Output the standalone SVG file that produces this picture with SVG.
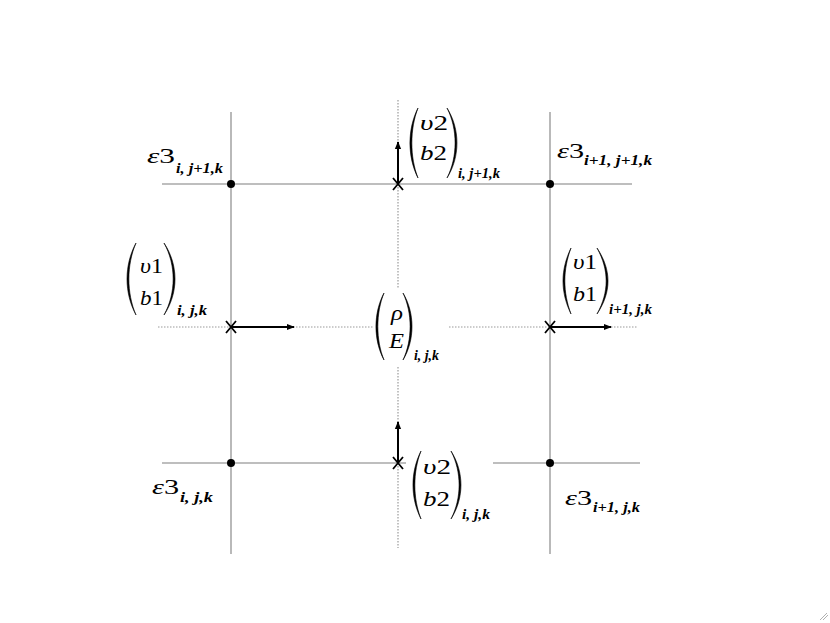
<svg xmlns="http://www.w3.org/2000/svg" width="830" height="623" viewBox="0 0 830 623">
<defs>
<style>
.grid{stroke:#a8a8a8;stroke-width:1.6;fill:none}
.dot{stroke:#9a9a9a;stroke-width:1.2;stroke-dasharray:1.5 1.5;fill:none}
.arrow{stroke:#000;stroke-width:2;fill:none;marker-end:url(#ah)}
.xm{stroke:#000;stroke-width:1.8;fill:none}
.par{fill:#000;stroke:#000;stroke-width:0.6;stroke-linejoin:round}
text{font-family:'Liberation Serif','Times New Roman',serif;fill:#000}
.t{font-size:21px}
.i{font-style:italic}
.s{font-size:14px;font-style:italic;font-weight:bold}
</style>
<marker id="ah" viewBox="0 0 10 10" refX="9" refY="5" markerWidth="4" markerHeight="4" orient="auto" markerUnits="strokeWidth">
<path d="M0,1 L10,5 L0,9 z" fill="#000"/>
</marker>
</defs>
<rect width="830" height="623" fill="#fff"/>
<g id="connectors">
<line class="grid" x1="231" y1="112" x2="231" y2="554"/>
<line class="grid" x1="550" y1="112" x2="550" y2="554"/>
<line class="grid" x1="162" y1="184" x2="632" y2="184"/>
<line class="grid" x1="162" y1="463" x2="406" y2="463"/>
<line class="grid" x1="493" y1="463" x2="640" y2="463"/>
<line class="dot" x1="398" y1="100" x2="398" y2="289"/>
<line class="dot" x1="398" y1="367" x2="398" y2="548"/>
<line class="dot" x1="158" y1="327" x2="373" y2="327"/>
<line class="dot" x1="449" y1="327" x2="637" y2="327"/>
<line class="arrow" x1="231" y1="327" x2="294" y2="327"/>
<line class="arrow" x1="550" y1="327" x2="611" y2="327"/>
<line class="arrow" x1="398" y1="184" x2="398" y2="142"/>
<line class="arrow" x1="398" y1="463" x2="398" y2="422"/>
</g>
<g id="n-tl"><circle cx="231" cy="184" r="4" fill="#000"/>
<text class="t" x="147" y="163" textLength="28" lengthAdjust="spacingAndGlyphs"><tspan class="i">ε</tspan>3</text>
<text class="s" x="176" y="173" textLength="47" lengthAdjust="spacingAndGlyphs">i, j+1,k</text></g>
<g id="n-tr"><circle cx="550" cy="184" r="4" fill="#000"/>
<text class="t" x="557" y="158" textLength="27" lengthAdjust="spacingAndGlyphs"><tspan class="i">ε</tspan>3</text>
<text class="s" x="584" y="165" textLength="68" lengthAdjust="spacingAndGlyphs">i+1, j+1,k</text></g>
<g id="n-bl"><circle cx="231" cy="463" r="4" fill="#000"/>
<text class="t" x="152" y="494" textLength="27" lengthAdjust="spacingAndGlyphs"><tspan class="i">ε</tspan>3</text>
<text class="s" x="180" y="502" textLength="33" lengthAdjust="spacingAndGlyphs">i, j,k</text></g>
<g id="n-br"><circle cx="550" cy="463" r="4" fill="#000"/>
<text class="t" x="565" y="505" textLength="27" lengthAdjust="spacingAndGlyphs"><tspan class="i">ε</tspan>3</text>
<text class="s" x="593" y="512" textLength="47" lengthAdjust="spacingAndGlyphs">i+1, j,k</text></g>
<g id="n-top">
<path class="xm" d="M393,178 L403,190 M403,178 L393,190"/>
<path class="par" d="M418,108 C407.3,129 407.3,157 418,178 C409.8,157 409.8,129 418,108 Z"/>
<path class="par" d="M447,108 C460.3,129 460.3,157 447,178 C457.8,157 457.8,129 447,108 Z"/>
<text class="t" x="420" y="130" textLength="28" lengthAdjust="spacingAndGlyphs"><tspan class="i">υ</tspan>2</text>
<text class="t" x="420" y="160" textLength="27" lengthAdjust="spacingAndGlyphs"><tspan class="i">b</tspan>2</text>
<text class="s" x="458" y="178" textLength="42" lengthAdjust="spacingAndGlyphs">i, j+1,k</text>
</g>
<g id="n-left">
<path class="xm" d="M226,321 L236,333 M236,321 L226,333"/>
<path class="par" d="M136,243 C124,265 124,293 136,315 C126.5,293 126.5,265 136,243 Z"/>
<path class="par" d="M164,243 C178.7,265 178.7,293 164,315 C176.2,293 176.2,265 164,243 Z"/>
<text class="t" x="140" y="273" textLength="23" lengthAdjust="spacingAndGlyphs"><tspan class="i">υ</tspan>1</text>
<text class="t" x="140" y="305" textLength="23" lengthAdjust="spacingAndGlyphs"><tspan class="i">b</tspan>1</text>
<text class="s" x="177" y="315" textLength="30" lengthAdjust="spacingAndGlyphs">i, j,k</text>
</g>
<g id="n-center">
<path class="par" d="M384,293 C373.3,313 373.3,340 384,360 C375.8,340 375.8,313 384,293 Z"/>
<path class="par" d="M403,293 C415,313 415,340 403,360 C412.5,340 412.5,313 403,293 Z"/>
<text class="t i" x="391" y="320" textLength="12" lengthAdjust="spacingAndGlyphs">ρ</text>
<text class="t i" x="389" y="348" textLength="15" lengthAdjust="spacingAndGlyphs">E</text>
<text class="s" x="414" y="360" textLength="25" lengthAdjust="spacingAndGlyphs">i, j,k</text>
</g>
<g id="n-right">
<path class="xm" d="M545,321 L555,333 M555,321 L545,333"/>
<path class="par" d="M571,248 C560.3,270 560.3,292 571,314 C562.8,292 562.8,270 571,248 Z"/>
<path class="par" d="M597,248 C611.7,270 611.7,292 597,314 C609.2,292 609.2,270 597,248 Z"/>
<text class="t" x="573" y="269" textLength="24" lengthAdjust="spacingAndGlyphs"><tspan class="i">υ</tspan>1</text>
<text class="t" x="573" y="301" textLength="24" lengthAdjust="spacingAndGlyphs"><tspan class="i">b</tspan>1</text>
<text class="s" x="609" y="314" textLength="43" lengthAdjust="spacingAndGlyphs">i+1, j,k</text>
</g>
<g id="n-bottom">
<path class="xm" d="M393,457 L403,469 M403,457 L393,469"/>
<path class="par" d="M421,451 C410.3,472 410.3,498 421,519 C412.8,498 412.8,472 421,451 Z"/>
<path class="par" d="M451,451 C464.3,472 464.3,498 451,519 C461.8,498 461.8,472 451,451 Z"/>
<text class="t" x="423" y="474" textLength="28" lengthAdjust="spacingAndGlyphs"><tspan class="i">υ</tspan>2</text>
<text class="t" x="423" y="506" textLength="27" lengthAdjust="spacingAndGlyphs"><tspan class="i">b</tspan>2</text>
<text class="s" x="462" y="519" textLength="28" lengthAdjust="spacingAndGlyphs">i, j,k</text>
</g>
<g id="grip" stroke="#b0b0b0" stroke-width="1">
<line x1="820" y1="620" x2="827" y2="613"/>
<line x1="823" y1="620" x2="828" y2="615"/>
</g>
</svg>
